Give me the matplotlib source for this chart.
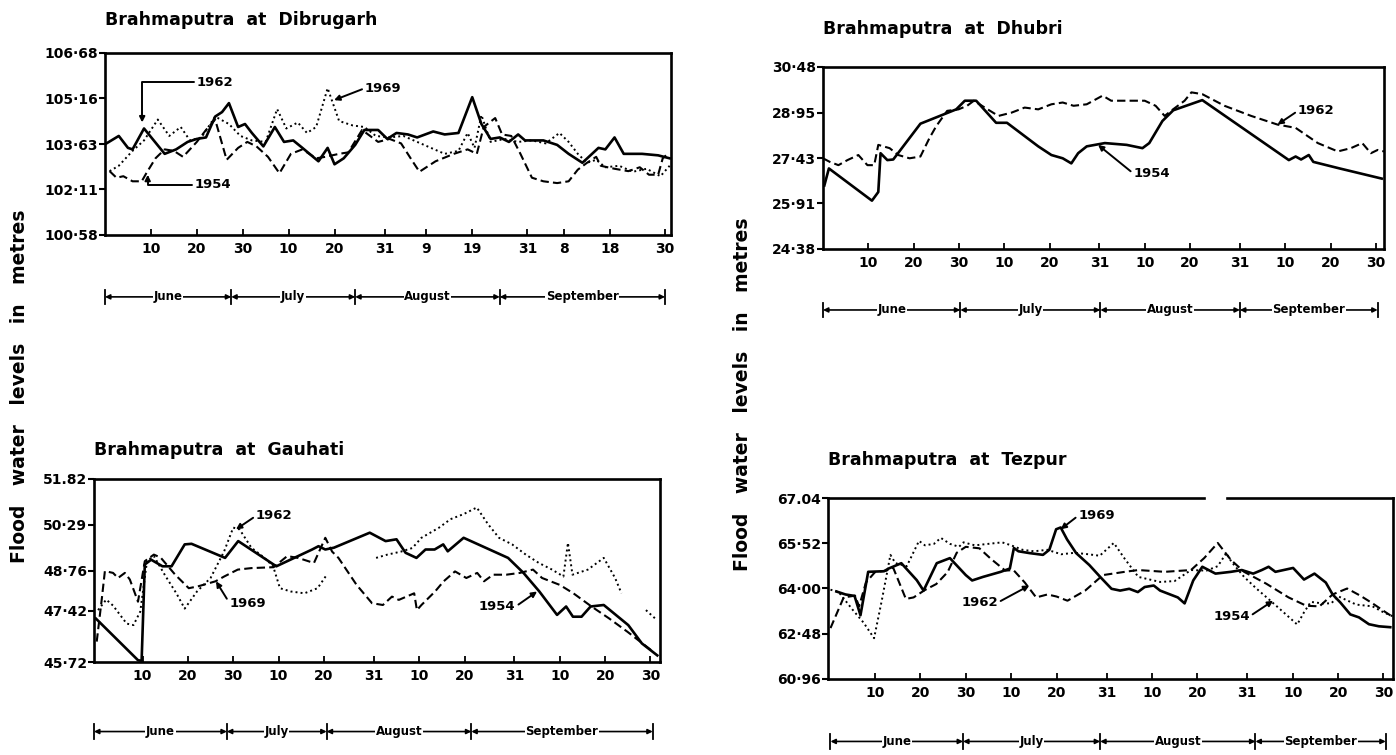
import matplotlib
matplotlib.use('Agg')
import matplotlib.pyplot as plt
from matplotlib.transforms import blended_transform_factory

plt.rcParams['font.family'] = 'DejaVu Sans'
plt.rcParams['font.weight'] = 'bold'

nan = float('nan')

MONTHS = ['June', 'July', 'August', 'September']

# x axis runs in days from 1 June (day 0) to 30 September (day 122)
STD_XTICKS = [10, 20, 30, 40, 50, 61, 71, 81, 92, 102, 112, 122]
STD_XLABELS = ['10', '20', '30', '10', '20', '31', '10', '20', '31', '10', '20', '30']

# ---------------- Dibrugarh ----------------
dib_xticks = [10, 20, 30, 40, 50, 61, 70, 80, 92, 100, 110, 122]
dib_xlabels = ['10', '20', '30', '10', '20', '31', '9', '19', '31', '8', '18', '30']
dib_yticks = [100.58, 102.11, 103.63, 105.16, 106.68]
dib_ylabels = ['100·58', '102·11', '103·63', '105·16', '106·68']

dib_1962_day = [0, 3, 5, 6, 8.5, 13, 15.5, 18, 20, 22, 24, 25.5, 27, 29, 30.5, 32, 34.5, 37, 39, 41,
                43, 46.5, 48.5, 50, 52, 54.5, 56.5, 59.5, 61.5, 63.5, 66, 68, 71.5, 74, 77, 80, 82, 84,
                86, 88, 90, 91.5, 95.5, 98.5, 101, 104, 107.5, 109, 111, 113, 117, 120.5, 123]
dib_1962_lvl = [103.62, 103.9, 103.5, 103.45, 104.15, 103.3, 103.45, 103.7, 103.8, 103.85, 104.55, 104.7,
                105.0, 104.2, 104.3, 104.0, 103.55, 104.2, 103.7, 103.75, 103.5, 103.05, 103.5, 102.95,
                103.15, 103.6, 104.1, 104.1, 103.8, 104.0, 103.95, 103.85, 104.05, 103.95, 104.0, 105.2,
                104.3, 103.8, 103.85, 103.7, 103.95, 103.75, 103.75, 103.6, 103.3, 103.0, 103.5, 103.45,
                103.85, 103.3, 103.3, 103.25, 103.15]

dib_1954_day = [1, 2.5, 4, 6, 8, 9, 11, 13, 15, 17, 20, 22, 24, 26.5, 29, 31, 33, 35.5, 38, 40.5, 43,
                46, 48, 51, 53, 56, 59.5, 62, 64.5, 67, 68.5, 72, 76, 79, 81, 82.5, 85, 86.5, 88.5, 90.5,
                93, 95.5, 98.5, 101, 103, 105, 107, 108, 111, 114, 116.5, 118.5, 120.5, 121.5, 122.6]
dib_1954_lvl = [102.72, 102.5, 102.55, 102.38, 102.38, 102.65, 103.15, 103.45, 103.4, 103.2, 103.7,
                104.1, 104.45, 103.1, 103.5, 103.7, 103.55, 103.2, 102.65, 103.3, 103.45, 103.15, 103.2,
                103.3, 103.35, 104.1, 103.7, 103.8, 103.65, 103.05, 102.7, 103.05, 103.3, 103.45, 103.3,
                104.2, 104.5, 103.95, 103.9, 103.3, 102.5, 102.38, 102.32, 102.38, 102.77, 103.0, 103.2,
                102.9, 102.8, 102.72, 102.85, 102.6, 102.6, 103.15, 103.3]

dib_1969_day = [1, 3, 6, 8.5, 11.5, 14, 16.5, 18.5, 21, 24, 27, 29.5, 32, 35, 37.5, 39.5, 42, 44, 46,
                48.5, 51, 54, 56.5, 59, 62, 65, 68, 71, 74, 77, 79, 80.5, 82, 84, 87, 90, 93, 96, 99,
                101, 103, 105, 107, 109, 112, 115, 118, 121, 123]
dib_1969_lvl = [102.72, 102.9, 103.4, 103.75, 104.45, 103.9, 104.2, 103.75, 103.85, 104.55, 104.3,
                103.9, 103.75, 103.7, 104.8, 104.15, 104.35, 104.0, 104.2, 105.5, 104.4, 104.25, 104.2,
                103.9, 103.85, 103.9, 103.7, 103.5, 103.3, 103.4, 104.0, 103.5, 104.6, 103.7, 103.8,
                103.7, 103.75, 103.65, 104.0, 103.7, 103.3, 103.0, 103.1, 102.85, 102.9, 102.7, 102.8,
                102.55, 102.9]

# ---------------- Dhubri ----------------
dhu_yticks = [24.38, 25.91, 27.43, 28.95, 30.48]
dhu_ylabels = ['24·38', '25·91', '27·43', '28·95', '30·48']

dhu_1954_day = [0.3, 1.3, 10.8, 12.2, 12.7, 14.2, 15.5, 21.5, 29.4, 31.3, 33.8, 38.2, 40.6, 47.5, 50.4,
                52.9, 54.8, 56.3, 58.2, 62.2, 67, 70.5, 72, 74.9, 77.3, 83.7, 102.8, 104.3, 105.5, 107.2,
                108.2, 114, 123.3]
dhu_1954_lvl = [26.51, 27.08, 26.0, 26.29, 27.59, 27.36, 27.38, 28.58, 29.06, 29.35, 29.35, 28.61, 28.61,
                27.82, 27.53, 27.42, 27.25, 27.59, 27.82, 27.93, 27.87, 27.76, 27.93, 28.67, 29.03, 29.37,
                27.36, 27.48, 27.38, 27.53, 27.3, 27.08, 26.74]

dhu_1962_day = [0, 1.5, 3.4, 5.4, 7.8, 9.8, 11.3, 12.2, 14.7, 16.6, 19.1, 21.5, 23.5, 25, 27.4, 29.9,
                31.8, 33.3, 35.7, 38.7, 41.6, 44.5, 47.5, 50.4, 52.9, 55.3, 58.2, 61.7, 63.6, 67, 71,
                73.4, 75.4, 76.8, 79.8, 81.3, 83.7, 88.6, 94.5, 100.3, 104.3, 109.2, 113.6, 116.5, 119,
                120.9, 122.4, 123.8]
dhu_1962_lvl = [27.42, 27.3, 27.19, 27.36, 27.53, 27.19, 27.19, 27.87, 27.76, 27.53, 27.42, 27.48, 28.1,
                28.5, 29.01, 29.06, 29.18, 29.35, 29.12, 28.84, 28.95, 29.12, 29.06, 29.23, 29.29, 29.18,
                29.23, 29.52, 29.35, 29.35, 29.35, 29.18, 28.84, 29.01, 29.35, 29.63, 29.57, 29.18, 28.84,
                28.55, 28.44, 27.93, 27.65, 27.76, 27.93, 27.59, 27.7, 27.65]

# ---------------- Gauhati ----------------
gau_yticks = [45.72, 47.42, 48.76, 50.29, 51.82]
gau_ylabels = ['45·72', '47·42', '48·76', '50·29', '51.82']

gau_1954_day = [-0.3, 9.0, 9.8, 10.5, 11.9, 14.4, 16.4, 19.3, 20.8, 28.2, 31.1, 39.5, 47.4, 48.8, 50.3,
                52.2, 60.1, 63.6, 66, 68, 70.4, 72.4, 74.4, 76.3, 77.3, 80.8, 90.6, 94, 97.5, 101.4,
                103.4, 104.9, 106.8, 108.8, 111.7, 117.1, 120.1, 123.5]
gau_1954_lvl = [47.17, 45.78, 45.76, 48.97, 49.13, 48.91, 48.91, 49.64, 49.66, 49.19, 49.75, 48.91, 49.47,
                49.58, 49.47, 49.53, 50.03, 49.75, 49.81, 49.36, 49.19, 49.47, 49.47, 49.64, 49.41, 49.86,
                49.19, 48.69, 48.07, 47.29, 47.57, 47.23, 47.23, 47.57, 47.62, 46.95, 46.34, 45.94]

gau_1969_day = [-0.1, 1.0, 1.7, 3.5, 4.6, 6.1, 7.2, 8.3, 9.0, 10.5, 12.5, 14, 17.2, 20.2, 22.2, 26.1, 28,
                31, 34, 38.9, 41.9, 44.3, 47.8, 50.3, 51.8, 53.2, 57.2, 60.6, 63, 65, 66.5, 69.9, 70.5,
                71.5, 74.5, 76.4, 78.9, 81.4, 83.8, 85.3, 87.3, 90.2, 93.2, 96.1, 98.1, 102, 105, 109,
                112.9, 116.9, 119.8, 122.6]
gau_1969_lvl = [46.4, 47.8, 48.75, 48.69, 48.52, 48.69, 48.47, 48.02, 47.73, 49.08, 49.3, 49.2, 48.63,
                48.18, 48.24, 48.41, 48.57, 48.8, 48.85, 48.88, 49.25, 49.19, 49.02, 49.86, 49.4, 49.19,
                48.29, 47.68, 47.62, 47.9, 47.79, 48.01, 47.45, 47.62, 48.07, 48.41, 48.74, 48.52, 48.69,
                48.41, 48.63, 48.63, 48.69, 48.8, 48.52, 48.29, 48.01, 47.57, 47.17, 46.73, 46.39, 46.06]

gau_1962_day = [0.2, 2, 3.5, 6.5, 8, 9.5, 11, 12.5, 15, 17.5, 19.3, 22, 25, 28, 30, 31.4, 34, 36.9, 38.8,
                40.3, 42.7, 45.7, 48.6, 50.5, nan, 61.5, 64, 67, 69.5, 71.5, 75.4, 77.9, 80.8, 83.7, 86.2,
                88.6, 91.5, 94.5, 97.4, 100.3, 102.8, 103.8, 104.8, 108.2, 111.7, 114.2, 115.6, nan, 121,
                123.4]
gau_1962_lvl = [47.45, 47.8, 47.6, 47.0, 46.95, 47.4, 49.1, 49.25, 48.6, 48.0, 47.5, 48.07, 48.52, 49.41,
                50.2, 50.14, 49.53, 49.19, 48.91, 48.18, 48.07, 48.01, 48.18, 48.6, nan, 49.19, 49.3, 49.4,
                49.52, 49.86, 50.2, 50.48, 50.65, 50.87, 50.31, 49.86, 49.64, 49.3, 49.02, 48.8, 48.57,
                49.69, 48.63, 48.8, 49.19, 48.52, 48.01, nan, 47.45, 47.12]

# ---------------- Tezpur ----------------
tez_yticks = [60.96, 62.48, 64.00, 65.52, 67.04]
tez_ylabels = ['60·96', '62·48', '64·00', '65·52', '67.04']

tez_1969_day = [1.5, 3.5, 5.5, 6.8, 8.5, 12, 13, 15.8, 19.2, 20.7, 23.6, 26.5, 30, 31.4, 33.8, 37.7, 39.7,
                40.6, 41.6, 44, 47, 48.4, 49.9, 50.9, 52.3, 54.3, 57.2, 59.6, 62.1, 64, 66, 67.9, 69.4,
                71.4, 72.8, 76.7, 78.2, 80.1, 82.1, 85, 88.4, 90.8, 93.3, 95.2, 96.7, 98.2, 102.1, 104.5,
                106.8, 109.3, 110.8, 112.5, 114.7, 116.6, 118.8, 121, 123.5]
tez_1969_lvl = [63.9, 63.8, 63.75, 63.1, 64.56, 64.58, 64.67, 64.85, 64.28, 63.93, 64.85, 65.02, 64.45,
                64.27, 64.39, 64.56, 64.67, 65.36, 65.25, 65.19, 65.13, 65.3, 65.99, 66.05, 65.65, 65.19,
                64.79, 64.39, 63.99, 63.93, 63.99, 63.88, 64.05, 64.1, 63.93, 63.7, 63.5, 64.27, 64.73,
                64.5, 64.56, 64.62, 64.5, 64.62, 64.73, 64.56, 64.69, 64.3, 64.5, 64.2, 63.8, 63.53,
                63.13, 63.03, 62.8, 62.73, 62.7]

tez_1962_day = [0.2, 3.1, 5.6, 6.5, 8, 10, 12.5, 14, 16.8, 18.5, 21, 23.5, 26, 28, 30, 33, 35.5, 38.7,
                40.5, 43, 45.5, 48, 50, 52.4, 56.3, 60.2, 65, 68, 73.8, 79.6, 82.5, 85.5, 88.4, 91.3,
                96.2, 101.1, 105, 107.9, 110.8, 114, 117, 119.6, 122.5, 124]
tez_1962_lvl = [62.67, 63.7, 63.76, 63.4, 64.2, 64.55, 64.6, 64.7, 63.65, 63.7, 63.95, 64.15, 64.55, 65.2,
                65.4, 65.35, 65.0, 64.6, 64.62, 64.2, 63.7, 63.8, 63.73, 63.59, 63.93, 64.45, 64.56, 64.62,
                64.56, 64.62, 65.02, 65.53, 64.96, 64.56, 64.16, 63.7, 63.42, 63.4, 63.8, 64.0, 63.75,
                63.5, 63.2, 63.05]

tez_1954_day = [0.2, 2, 5, 7.5, 9.8, 11.5, 13.4, 14.5, 17, 19.7, 21, 23, 24.5, 26.5, 28.5, 29.5, 32, 35,
                38, 40, 42.5, 45, 48, 51, 54, 57, 59.5, 62.6, 65, 68, 72.8, 76, 79.6, 83, 85.5, 87.4,
                88.5, 91.3, 94, 97.1, 100, 103, 104.5, 106, 108.5, 110.5, 112, 116, 119.6, 122, 124]
tez_1954_lvl = [63.96, 63.88, 63.3, 62.85, 62.33, 63.6, 65.13, 64.85, 64.75, 65.6, 65.45, 65.5, 65.7,
                65.5, 65.4, 65.55, 65.45, 65.5, 65.55, 65.45, 65.3, 65.25, 65.3, 65.15, 65.2, 65.15, 65.1,
                65.53, 65.0, 64.39, 64.22, 64.25, 64.62, 64.6, 64.75, 65.19, 64.9, 64.39, 64.0, 63.59,
                63.2, 62.79, 63.2, 63.55, 63.5, 63.5, 63.74, 63.46, 63.4, 63.2, 63.07]

SOLID = dict(color='black', lw=1.9, ls='-')
DASHED = dict(color='black', lw=1.5, ls=(0, (4, 2)))
DOTTED = dict(color='black', lw=1.4, ls=(0, (1, 1.6)))

W, H = 1396, 755
fig = plt.figure(figsize=(W / 100, H / 100), dpi=100)


def px_rect(left, top, right, bottom):
    return [left / W, 1 - bottom / H, (right - left) / W, (bottom - top) / H]


def panel(rect, title, title_dy, xlim, ylim, yticks, ylabels, xticks, xlabels, lines, seps, bar_y):
    ax = fig.add_axes(rect)
    for day, lvl, style in lines:
        ax.plot(day, lvl, **style)
    ax.set_yticks(yticks)
    ax.set_yticklabels(ylabels, fontsize=10, fontweight='bold')
    ax.set_xticks(xticks)
    ax.set_xticklabels(xlabels, fontsize=10, fontweight='bold')
    ax.tick_params(axis='y', direction='out', length=4, width=1.5, pad=1)
    ax.tick_params(axis='x', direction='in', length=4, width=1.3, pad=5)
    for s in ax.spines.values():
        s.set_linewidth(1.9)
    ax.text(0, 1 + title_dy, title, transform=ax.transAxes, ha='left', va='center',
            fontsize=12.5, fontweight='bold')

    # month bar under the axis
    tr = blended_transform_factory(ax.transData, ax.transAxes)
    for i, name in enumerate(MONTHS):
        a, b = seps[i], seps[i + 1]
        ax.annotate('', xy=(b, bar_y), xytext=(a, bar_y), xycoords=tr, textcoords=tr,
                    arrowprops=dict(arrowstyle='<|-|>', lw=1.2, color='black',
                                    mutation_scale=7, shrinkA=0, shrinkB=0),
                    annotation_clip=False)
        ax.text((a + b) / 2, bar_y, name, transform=tr, ha='center', va='center',
                fontsize=8.5, fontweight='bold', zorder=6,
                bbox=dict(fc='white', ec='none', pad=0.4))
    for s in seps:
        ax.plot([s, s], [bar_y - 0.04, bar_y + 0.04], transform=tr, color='black',
                lw=1.3, clip_on=False)
    ax.set_xlim(*xlim)
    ax.set_ylim(*ylim)
    return ax


def label(ax, text, xy, xytext, conn='arc3', relpos=(0, 0.5)):
    ax.annotate(text, xy=xy, xytext=xytext, ha='left', va='center', fontsize=9.5,
                fontweight='bold',
                arrowprops=dict(arrowstyle='-|>', color='black', lw=1.4, mutation_scale=8,
                                shrinkA=0, shrinkB=0, connectionstyle=conn, relpos=relpos))


# Dibrugarh
ax = panel(px_rect(105, 53, 671, 235), 'Brahmaputra  at  Dibrugarh', 0.18, (0, 123.3),
           (100.58, 106.68), dib_yticks, dib_ylabels, dib_xticks, dib_xlabels,
           [(dib_1954_day, dib_1954_lvl, DASHED), (dib_1969_day, dib_1969_lvl, DOTTED),
            (dib_1962_day, dib_1962_lvl, SOLID)],
           [0, 27.5, 54.5, 86, 122], -0.34)
label(ax, '1962', (8.1, 104.35), (20, 105.7), conn='angle,angleA=0,angleB=90')
label(ax, '1969', (49.9, 105.1), (56.6, 105.5))
label(ax, '1954', (9.3, 102.6), (19.6, 102.27), conn='angle,angleA=0,angleB=90')

# Dhubri
ax = panel(px_rect(823, 67, 1384, 249), 'Brahmaputra  at  Dhubri', 0.21, (0, 123.8),
           (24.38, 30.48), dhu_yticks, dhu_ylabels, STD_XTICKS, STD_XLABELS,
           [(dhu_1962_day, dhu_1962_lvl, DASHED), (dhu_1954_day, dhu_1954_lvl, SOLID)],
           [0, 30.3, 61.2, 92, 122.4], -0.335)
label(ax, '1962', (100.3, 28.55), (104.8, 29.01))
label(ax, '1954', (60.7, 27.87), (68.5, 26.91))

# Gauhati
ax = panel(px_rect(94, 479, 660, 662), 'Brahmaputra  at  Gauhati', 0.16, (-0.7, 124.1),
           (45.72, 51.82), gau_yticks, gau_ylabels, STD_XTICKS, STD_XLABELS,
           [(gau_1969_day, gau_1969_lvl, DASHED), (gau_1962_day, gau_1962_lvl, DOTTED),
            (gau_1954_day, gau_1954_lvl, SOLID)],
           [-0.7, 28.6, 50.6, 82.5, 122.5], -0.38)
label(ax, '1962', (30.6, 50.14), (35, 50.59))
label(ax, '1969', (26.2, 48.41), (29.2, 47.68))
label(ax, '1954', (97, 48.07), (84.2, 47.57), relpos=(1, 0.5))

# Tezpur
ax = panel(px_rect(828, 498, 1393, 679), 'Brahmaputra  at  Tezpur', 0.21, (-0.35, 124.1),
           (60.96, 67.04), tez_yticks, tez_ylabels, STD_XTICKS, STD_XLABELS,
           [(tez_1954_day, tez_1954_lvl, DOTTED), (tez_1962_day, tez_1962_lvl, DASHED),
            (tez_1969_day, tez_1969_lvl, SOLID)],
           [0.2, 29.4, 59.6, 93.8, 122.5], -0.345)
ax.spines['top'].set_visible(False)
ax.plot([0, 0.665], [1, 1], transform=ax.transAxes, color='black', lw=1.9, clip_on=False)
ax.plot([0.706, 1], [1, 1], transform=ax.transAxes, color='black', lw=1.9, clip_on=False)
label(ax, '1969', (50.9, 65.99), (54.8, 66.45))
label(ax, '1962', (44, 64.1), (29, 63.53), relpos=(1, 0.5))
label(ax, '1954', (97.7, 63.59), (84.5, 63.07), relpos=(1, 0.5))

ylab = 'Flood   water   levels   in   metres'
fig.text(20 / W, 1 - 386 / H, ylab, rotation=90, ha='center', va='center', fontsize=13.5,
         fontweight='bold')
fig.text(742 / W, 1 - 394 / H, ylab, rotation=90, ha='center', va='center', fontsize=13.5,
         fontweight='bold')

fig.savefig('out.png', dpi=100)
